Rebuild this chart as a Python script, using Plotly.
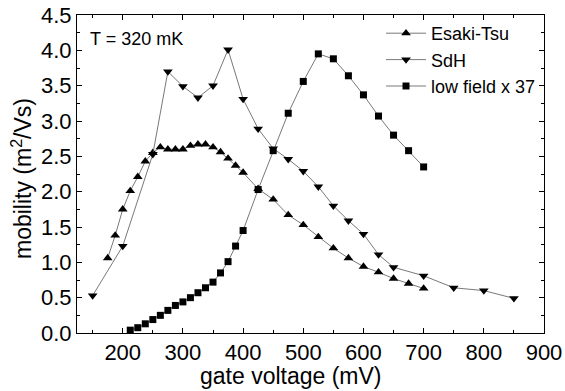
import plotly.graph_objects as go

# Esaki-Tsu
et_x = [175, 187.5, 200, 212.5, 225, 237.5, 250, 262.5, 275, 287.5, 300, 312.5, 325, 337.5,
        350, 362.5, 375, 387.5, 400, 425, 450, 475, 500, 525, 550, 575, 600, 625, 650, 675, 700]
et_y = [1.06, 1.38, 1.75, 2.01, 2.21, 2.43, 2.55, 2.63, 2.60, 2.60, 2.60, 2.65, 2.67, 2.67,
        2.63, 2.56, 2.47, 2.37, 2.27, 2.04, 1.89, 1.67, 1.53, 1.36, 1.20, 1.06, 0.94, 0.86, 0.77, 0.70, 0.63]

# SdH
sdh_x = [150, 200, 250, 275, 300, 325, 350, 375, 400, 425, 450, 475, 500, 525, 550, 575, 600,
         625, 650, 700, 750, 800, 850]
sdh_y = [0.53, 1.23, 2.53, 3.70, 3.49, 3.33, 3.50, 4.01, 3.31, 2.89, 2.61, 2.46, 2.29, 2.07, 1.80,
         1.59, 1.40, 1.11, 0.93, 0.81, 0.64, 0.60, 0.49]

# low field x 37
lf_x = [212.5, 225, 237.5, 250, 262.5, 275, 287.5, 300, 312.5, 325, 337.5, 350, 362.5, 375,
        387.5, 400, 425, 450, 475, 500, 525, 550, 575, 600, 625, 650, 675, 700]
lf_y = [0.04, 0.075, 0.13, 0.19, 0.25, 0.32, 0.39, 0.44, 0.50, 0.57, 0.64, 0.72, 0.85, 1.01,
        1.23, 1.45, 2.03, 2.58, 3.11, 3.56, 3.95, 3.88, 3.64, 3.37, 3.07, 2.80, 2.58, 2.35]

x_ticks = [200, 300, 400, 500, 600, 700, 800, 900]
y_ticks = [0.0, 0.5, 1.0, 1.5, 2.0, 2.5, 3.0, 3.5, 4.0, 4.5]
y_ticklabels = [f"{v:.1f}" for v in y_ticks]

FONT = "Arial, Liberation Sans, sans-serif"
line_style = dict(color="#555555", width=0.8)

fig = go.Figure()
fig.add_trace(go.Scatter(x=et_x, y=et_y, mode="lines+markers", name="Esaki-Tsu",
                         line=line_style,
                         marker=dict(symbol="triangle-up", size=8.5, color="black")))
fig.add_trace(go.Scatter(x=sdh_x, y=sdh_y, mode="lines+markers", name="SdH",
                         line=line_style,
                         marker=dict(symbol="triangle-down", size=8.5, color="black")))
fig.add_trace(go.Scatter(x=lf_x, y=lf_y, mode="lines+markers", name="low field x 37",
                         line=line_style,
                         marker=dict(symbol="square", size=7, color="black")))

axis_common = dict(showline=True, linecolor="black", linewidth=1, mirror="allticks",
                   ticks="inside", ticklen=5, tickwidth=1, tickcolor="black",
                   showgrid=False, zeroline=False, automargin=False,
                   ticklabeloverflow="allow",
                   tickfont=dict(family=FONT, size=22, color="black"))

fig.update_xaxes(range=[124, 900], tickvals=x_ticks,
                 minor=dict(dtick=50, ticklen=3, tickcolor="black", ticks="inside"),
                 **axis_common)
fig.update_yaxes(range=[0, 4.5], tickvals=y_ticks, ticktext=y_ticklabels,
                 minor=dict(dtick=0.25, ticklen=3, tickcolor="black", ticks="inside"),
                 **axis_common)

fig.add_annotation(text="gate voltage (mV)", xref="paper", yref="paper", x=0.458, y=-0.135,
                   xanchor="center", yanchor="middle", showarrow=False,
                   font=dict(family=FONT, size=23, color="black"))
fig.add_annotation(text="mobility (m<sup>2</sup>/Vs)", xref="paper", yref="paper",
                   x=-0.118, y=0.487, textangle=-90,
                   xanchor="center", yanchor="middle", showarrow=False,
                   font=dict(family=FONT, size=23, color="black"))
fig.add_annotation(text="T = 320 mK", xref="paper", yref="paper", x=0.024, y=0.925,
                   xanchor="left", yanchor="middle", showarrow=False,
                   font=dict(family=FONT, size=18, color="black"))

fig.update_layout(
    width=565, height=391,
    margin=dict(l=77, r=21, t=15, b=58),
    paper_bgcolor="white", plot_bgcolor="white",
    showlegend=True,
    legend=dict(x=0.651, y=1.0, xanchor="left", yanchor="top",
                bgcolor="rgba(0,0,0,0)", font=dict(family=FONT, size=18, color="black"),
                itemwidth=40, tracegroupgap=0),
)

# remove the browser's default 8px page margin so the figure sits at the window origin
fig.write_html("out.html", config={"displayModeBar": False},
               post_script="document.body.style.margin='0';document.body.style.padding='0';")
